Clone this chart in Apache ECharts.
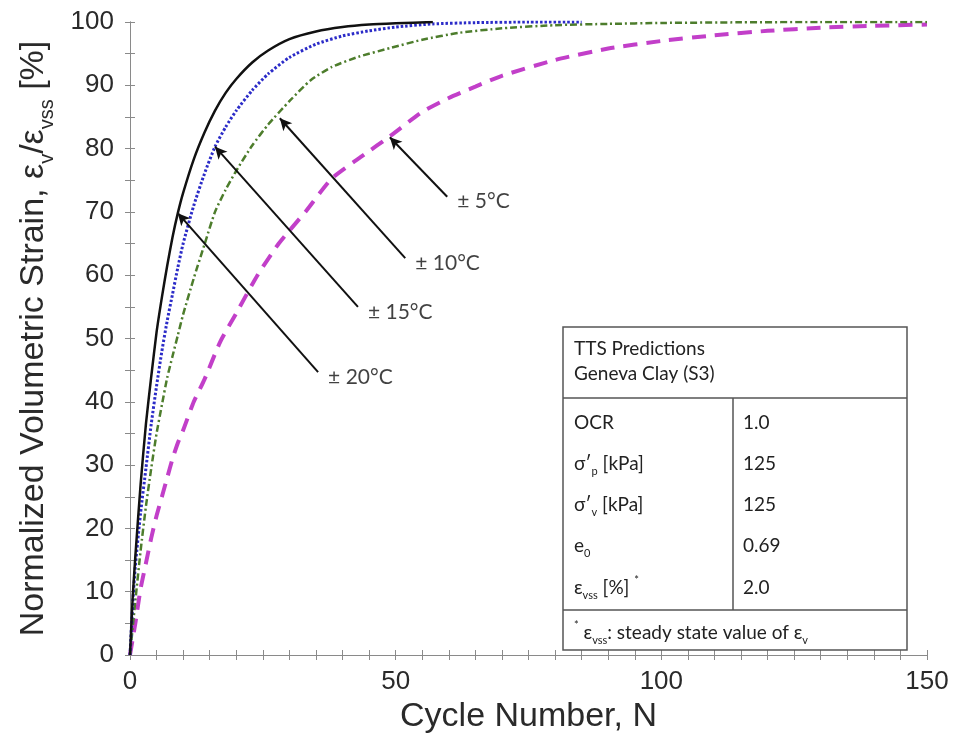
<!DOCTYPE html>
<html>
<head>
<meta charset="utf-8">
<script src="https://cdn.jsdelivr.net/npm/echarts@6/dist/echarts.min.js"></script>
<style>
  html, body { margin: 0; padding: 0; background: #fff; }
  #chart { width: 969px; height: 734px; }
</style>
</head>
<body>
<div id="chart"></div>
<script>
// Normalized volumetric strain vs. cycle number, one curve per temperature amplitude
const n20 = [0, 0.5, 1, 2, 3, 4, 5, 6, 7, 8, 9, 10, 12, 14, 16, 18, 20, 23, 26, 30, 35, 40, 45, 50, 57];
const y20 = [0, 9, 15.5, 27, 36.5, 44, 51, 56.5, 61.5, 66, 69.8, 73, 78.3, 82.5, 86, 88.8, 91, 93.6, 95.5, 97.3, 98.5, 99.2, 99.6, 99.8, 100];

const n15 = [0, 0.5, 1, 2, 3, 4, 5, 6, 7, 8, 9, 10, 12, 14, 16, 18, 20, 23, 26, 30, 35, 40, 45, 50, 57, 65, 75, 85];
const y15 = [0, 8, 14, 22.5, 29.5, 36.5, 42.5, 48, 52.8, 57, 61.2, 65, 71, 76, 80.3, 83.4, 86, 89.2, 91.8, 94.4, 96.5, 97.8, 98.6, 99.2, 99.7, 99.9, 100, 100];

const n10 = [0, 1, 2, 3, 4, 5, 6, 7, 8, 9, 10, 12, 14, 16, 18, 20, 23, 26, 30, 34, 38, 43, 49, 55, 62, 70, 80, 90, 100, 115, 130, 150];
const y10 = [0, 8.5, 16.5, 23.5, 29.5, 35, 39.5, 43.8, 47.2, 50.5, 53.8, 59.5, 64.8, 70, 73.5, 76.5, 80.5, 83.8, 87.5, 90.8, 92.9, 94.5, 95.9, 97.2, 98.3, 99, 99.5, 99.7, 99.85, 99.95, 100, 100];

const n5 = [0, 1, 2, 3, 4, 5, 6, 7, 8, 9, 10, 12, 14, 17, 20, 24, 28, 33, 38, 44, 49, 55, 60, 65, 70, 80, 90, 100, 110, 120, 130, 140, 150];
const y5 = [0, 5, 10.5, 14.5, 18.5, 22, 25, 28, 31, 33.5, 35.5, 40, 43.5, 49.5, 54, 60, 65, 70, 75.3, 79, 82, 85.8, 88, 89.8, 91.5, 94, 95.8, 97, 97.9, 98.6, 99.1, 99.4, 99.6];

// Callout arrows: label, tail point [N, %], head point on the curve [N, %]
const calloutLabels = ['± 5°C', '± 10°C', '± 15°C', '± 20°C'];
const calloutTails = [[59.7, 72.4], [51.8, 62.7], [42.9, 55.0], [35.4, 44.7]];
const calloutHeads = [[48.9, 81.8], [28.2, 84.8], [16.0, 80.3], [9.0, 69.8]];

// Axis ranges, labelled steps and tick steps
const xRange = [0, 150];
const xLabelStep = 50;
const xTickStep = 5;
const yRange = [0, 100];
const yLabelStep = 10;
const yTickStep = 5;

// Inset table content
const tableTitle = ['TTS Predictions', 'Geneva Clay (S3)'];
const tableKeys = ['OCR', 'σ′{sub|p} [kPa]', 'σ′{sub|v} [kPa]', 'e{sub|0}', 'ε{sub|vss} [%] {sup|*}'];
const tableVals = ['1.0', '125', '125', '0.69', '2.0'];
const tableNote = '{sup|*} ε{sub|vss}: steady state value of ε{sub|v}';

const pairs = (xs, ys) => xs.map((x, i) => [x, ys[i]]);

const axisFont = 'Liberation Sans, Arial, Helvetica, sans-serif';
const tableFont = 'Lato, "Open Sans", sans-serif';
const frameColor = '#8a8a8a';
const textColor = '#2a2a2a';

const chart = echarts.init(document.getElementById('chart'), null, { renderer: 'canvas' });

const tickStyle = { show: true, inside: true, length: 5, lineStyle: { color: frameColor, width: 1 } };
const lineStyleFrame = { show: true, lineStyle: { color: frameColor, width: 1 } };

const baseX = {
  type: 'value', min: xRange[0], max: xRange[1], interval: xTickStep,
  axisLine: lineStyleFrame, axisTick: tickStyle, splitLine: { show: false }
};
const baseY = {
  type: 'value', min: yRange[0], max: yRange[1], interval: yTickStep,
  axisLine: lineStyleFrame, axisTick: tickStyle, splitLine: { show: false }
};

const subRich = {
  sub: { fontSize: 20, fontFamily: axisFont, color: textColor, verticalAlign: 'bottom', lineHeight: 46 }
};

const tableRich = {
  sub: { fontSize: 11, fontFamily: tableFont, color: '#222', verticalAlign: 'bottom', lineHeight: 26 },
  sup: { fontSize: 11, fontFamily: tableFont, color: '#222', verticalAlign: 'top', lineHeight: 26 }
};

// Inset table geometry (pixels)
const tb = { x: 563, y: 327, w: 344, h: 323, split: 733, headBottom: 398, noteTop: 610 };
const rowY = [423, 464, 505, 546, 588];
const tFont = '19px ' + tableFont;
const tableGraphics = [
  { type: 'rect', shape: { x: tb.x, y: tb.y, width: tb.w, height: tb.h },
    style: { fill: '#fff', stroke: '#555', lineWidth: 1.5 }, z: 100 },
  { type: 'line', shape: { x1: tb.x, y1: tb.headBottom, x2: tb.x + tb.w, y2: tb.headBottom },
    style: { stroke: '#555', lineWidth: 1.5 }, z: 101 },
  { type: 'line', shape: { x1: tb.x, y1: tb.noteTop, x2: tb.x + tb.w, y2: tb.noteTop },
    style: { stroke: '#555', lineWidth: 1.5 }, z: 101 },
  { type: 'line', shape: { x1: tb.split, y1: tb.headBottom, x2: tb.split, y2: tb.noteTop },
    style: { stroke: '#555', lineWidth: 1.5 }, z: 101 },
  { type: 'text', x: tb.x + 11, y: 349, z: 102,
    style: { text: tableTitle[0], font: tFont, fill: '#222', verticalAlign: 'middle' } },
  { type: 'text', x: tb.x + 11, y: 374, z: 102,
    style: { text: tableTitle[1], font: tFont, fill: '#222', verticalAlign: 'middle' } },
  { type: 'text', x: tb.x + 11, y: 633, z: 102,
    style: { text: tableNote, font: tFont, fill: '#222', verticalAlign: 'middle', rich: tableRich } }
];
tableKeys.forEach((k, i) => {
  tableGraphics.push({ type: 'text', x: tb.x + 11, y: rowY[i], z: 102,
    style: { text: k, font: tFont, fill: '#222', verticalAlign: 'middle', rich: tableRich } });
  tableGraphics.push({ type: 'text', x: tb.split + 10, y: rowY[i], z: 102,
    style: { text: tableVals[i], font: tFont, fill: '#222', verticalAlign: 'middle' } });
});

const option = {
  backgroundColor: '#fff',
  animation: false,
  grid: { left: 130, right: 42, top: 22, bottom: 79, outerBoundsMode: 'none', containLabel: false },
  xAxis: [
    Object.assign({}, baseX, {
      position: 'bottom',
      name: 'Cycle Number, N', nameLocation: 'middle', nameGap: 40,
      nameTextStyle: { fontSize: 34, fontFamily: axisFont, color: textColor },
      axisLabel: { show: true, margin: 14, fontSize: 26, fontFamily: axisFont, color: textColor,
        formatter: v => (v % xLabelStep === 0 ? String(v) : '') }
    }),
    Object.assign({}, baseX, { position: 'top', axisLabel: { show: false } })
  ],
  yAxis: [
    Object.assign({}, baseY, {
      position: 'left',
      name: 'Normalized Volumetric Strain, ε{sub|v}/ε{sub|vss} [%]', nameLocation: 'middle', nameGap: 73,
      nameTextStyle: { fontSize: 34, fontFamily: axisFont, color: textColor, rich: subRich },
      axisLabel: { show: true, margin: 16, fontSize: 26, fontFamily: axisFont, color: textColor,
        formatter: v => (v % yLabelStep === 0 ? String(v) : '') }
    }),
    Object.assign({}, baseY, { position: 'right', axisLabel: { show: false } })
  ],
  series: [
    { name: '± 5°C', type: 'line', data: pairs(n5, y5), showSymbol: false, smooth: 0.2, z: 2,
      lineStyle: { color: '#c23fc9', width: 4, type: [14, 9] } },
    { name: '± 10°C', type: 'line', data: pairs(n10, y10), showSymbol: false, smooth: 0.2, z: 3,
      lineStyle: { color: '#4d7d2c', width: 2.5, type: [7, 3, 2, 3] } },
    { name: '± 15°C', type: 'line', data: pairs(n15, y15), showSymbol: false, smooth: 0.2, z: 4,
      lineStyle: { color: '#2b2bc8', width: 3, type: [2.5, 2] } },
    { name: '± 20°C', type: 'line', data: pairs(n20, y20), showSymbol: false, smooth: 0.2, z: 5,
      lineStyle: { color: '#111', width: 2.5, type: 'solid' } },
    { name: 'callouts', type: 'scatter', symbolSize: 0, z: 6,
      data: calloutTails.map((p, i) => ({ value: p, name: calloutLabels[i] })),
      label: { show: true, position: 'right', distance: 10, offset: [0, 5], formatter: '{b}',
        fontSize: 21, fontFamily: tableFont, color: '#111' },
      markLine: {
        silent: true, symbol: ['none', 'arrow'], symbolSize: [9, 12],
        label: { show: false },
        lineStyle: { color: '#111', width: 2, type: 'solid' },
        data: calloutTails.map((p, i) => [{ coord: p }, { coord: calloutHeads[i] }])
      }
    }
  ],
  graphic: tableGraphics
};
chart.setOption(option);
</script>
</body>
</html>
